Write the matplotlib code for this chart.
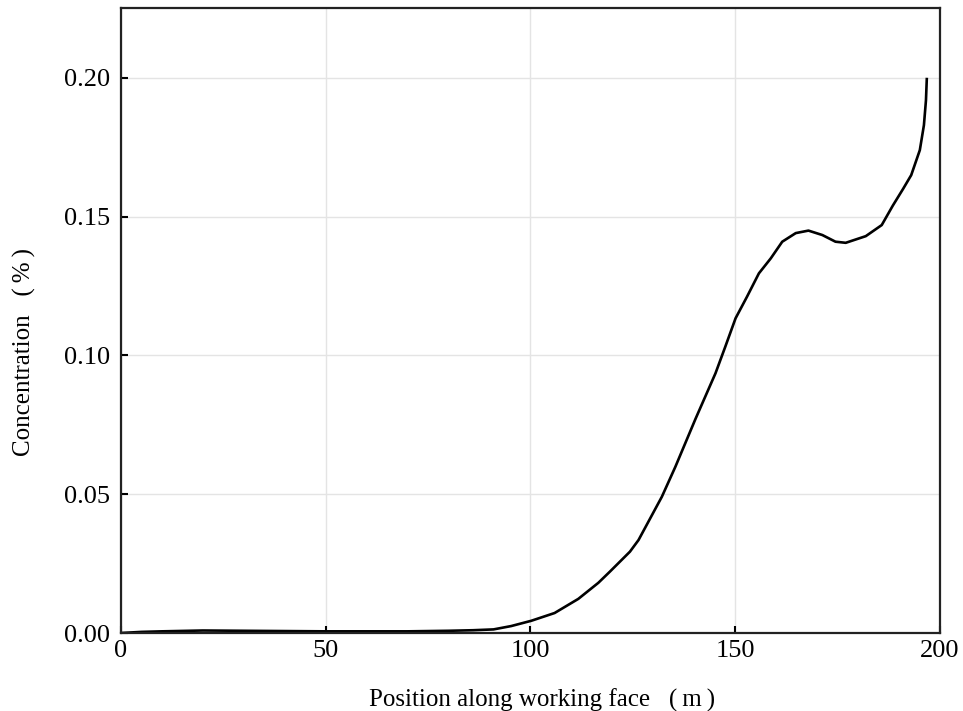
import matplotlib
matplotlib.use("Agg")
import matplotlib.pyplot as plt

# position along the working face (m) and concentration (%)
posicion = [0, 5, 10, 20, 30, 40, 50, 60, 70, 80, 86, 91, 95.3, 100.2, 105.9,
            111.7, 116.6, 119.4, 124.3, 126.4, 132.1, 135.4, 140.3, 145.2,
            147.6, 150.1, 152.9, 155.8, 158.7, 161.5, 164.8, 167.9, 171.3,
            174.5, 177, 181.9, 185.8, 188.5, 191, 193, 195.1, 196.1, 196.6, 196.8]
concentracion = [0.0, 0.0004, 0.0006, 0.0009, 0.0008, 0.0007, 0.0006, 0.0006,
                 0.0006, 0.0008, 0.0010, 0.0013, 0.0025, 0.0044, 0.0072,
                 0.0123, 0.0181, 0.0221, 0.0293, 0.0335, 0.0491, 0.0599,
                 0.0771, 0.0936, 0.1032, 0.1134, 0.1212, 0.1296, 0.1350,
                 0.1410, 0.1441, 0.1450, 0.1434, 0.1410, 0.1406, 0.1430,
                 0.1470, 0.1540, 0.1600, 0.1650, 0.1740, 0.1830, 0.1920, 0.1996]

xticks = [0, 50, 100, 150, 200]
yticks = [0.00, 0.05, 0.10, 0.15, 0.20]

plt.rcParams['font.family'] = ['Liberation Serif', 'DejaVu Serif']

fig = plt.figure(figsize=(9.63, 7.11), dpi=100)
ax = fig.add_axes([0.1256, 0.1097, 0.8504, 0.879])

ax.plot(posicion, concentracion, color='black', linewidth=1.9)

ax.set_xlim(0, 200)
ax.set_ylim(0, 0.2252)
ax.set_xticks(xticks)
ax.set_yticks(yticks)
ax.set_yticklabels([f"{v:.2f}" for v in yticks])
ax.grid(True, color='#e4e4e4', linewidth=1.0)
ax.set_axisbelow(True)

ax.tick_params(direction='in', length=5, width=1.5, labelsize=19)
ax.tick_params(axis='x', pad=5)
ax.tick_params(axis='y', pad=8)
for s in ax.spines.values():
    s.set_linewidth(1.6)
    s.set_color('#222222')

ax.set_xlabel("Position along working face\u2002 (\u2009m\u2009)", fontsize=18, va='center')
ax.set_ylabel("Concentration\u2002 (\u2009%\u2009)", fontsize=18, va='center')
ax.xaxis.set_label_coords(0.5 + (542 - 530.5) / 819, -0.107)
ax.yaxis.set_label_coords(-0.118, (633 - 352) / 625)

fig.savefig("out.png", dpi=100)
